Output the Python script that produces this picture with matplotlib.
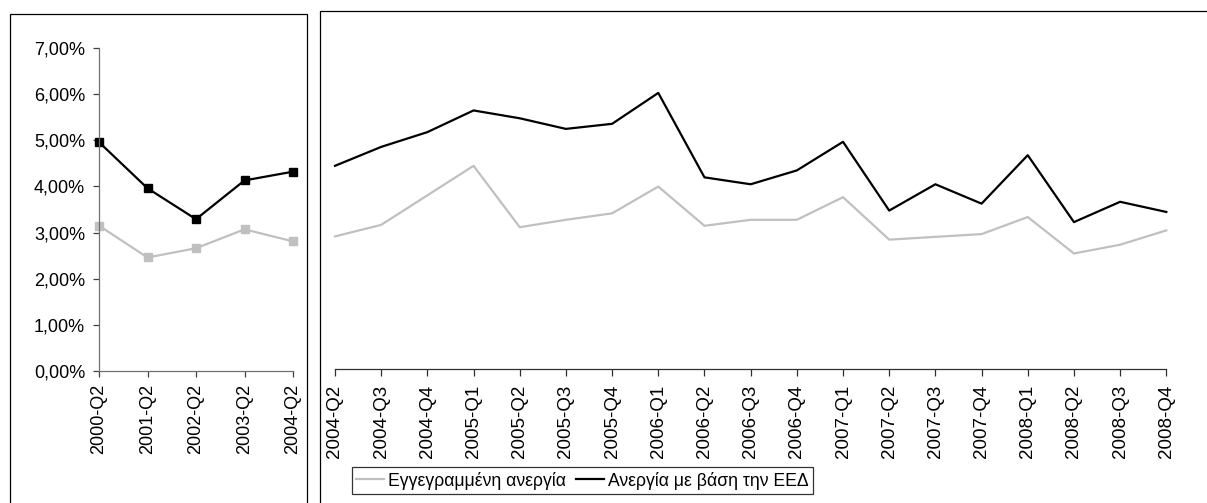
import matplotlib
matplotlib.use('Agg')
import matplotlib.pyplot as plt
from matplotlib.patches import Rectangle
from matplotlib.ticker import FuncFormatter

plt.rcParams['font.family'] = ['Liberation Sans', 'DejaVu Sans']

# ==================== data ====================
left_labels = ['2000-Q2', '2001-Q2', '2002-Q2', '2003-Q2', '2004-Q2']
left_registered = [3.15, 2.46, 2.66, 3.07, 2.81]
left_lfs = [4.96, 3.96, 3.29, 4.13, 4.32]

right_labels = ['2004-Q2', '2004-Q3', '2004-Q4', '2005-Q1', '2005-Q2', '2005-Q3',
                '2005-Q4', '2006-Q1', '2006-Q2', '2006-Q3', '2006-Q4', '2007-Q1',
                '2007-Q2', '2007-Q3', '2007-Q4', '2008-Q1', '2008-Q2', '2008-Q3',
                '2008-Q4']
right_registered = [2.88, 3.13, 3.77, 4.41, 3.08, 3.24, 3.38, 3.96, 3.11, 3.24,
                    3.24, 3.73, 2.81, 2.87, 2.93, 3.30, 2.51, 2.70, 3.01]
right_lfs = [4.41, 4.82, 5.14, 5.61, 5.44, 5.21, 5.32, 5.99, 4.16, 4.01,
             4.31, 4.93, 3.44, 4.01, 3.59, 4.64, 3.19, 3.63, 3.41]

label_registered = 'Εγγεγραμμένη ανεργία'
label_lfs = 'Ανεργία με βάση την ΕΕΔ'

GRAY = '#c0c0c0'
W, H = 1207, 503

fig = plt.figure(figsize=(W / 100, H / 100), dpi=100)


def px(x0, y_top, x1, y_bot):
    # pixel box -> figure fraction rect
    return [x0 / W, 1 - y_bot / H, (x1 - x0) / W, (y_bot - y_top) / H]


# panel frames
fig.patches.append(Rectangle((10 / W, -0.05), (306.7 - 10) / W, 1.05 - 14 / H,
                             transform=fig.transFigure, fill=False,
                             edgecolor='black', linewidth=0.9))
fig.patches.append(Rectangle((320 / W, -0.05), 1.1, 1.05 - 11 / H,
                             transform=fig.transFigure, fill=False,
                             edgecolor='black', linewidth=0.9))

# ==================== left panel ====================
ax1 = fig.add_axes(px(99, 48, 293, 371))
x1 = list(range(len(left_labels)))
ax1.plot(x1, left_registered, color=GRAY, lw=1.6, marker='s', ms=6,
         markeredgecolor=GRAY, clip_on=False)
ax1.plot(x1, left_lfs, color='black', lw=1.6, marker='s', ms=6, clip_on=False)
ax1.set_xlim(0, len(left_labels) - 1)
ax1.set_ylim(0, 7)
ax1.set_yticks(range(0, 8))
ax1.yaxis.set_major_formatter(FuncFormatter(lambda v, p: f'{v:.2f}'.replace('.', ',') + '%'))
ax1.set_xticks(x1)
ax1.set_xticklabels(left_labels, rotation=90)
for s in ['top', 'right']:
    ax1.spines[s].set_visible(False)
for s in ['left', 'bottom']:
    ax1.spines[s].set_color('#707070')
    ax1.spines[s].set_linewidth(0.9)
ax1.tick_params(axis='both', direction='out', length=4, width=0.9,
                color='#404040', labelsize=13, pad=5)
ax1.tick_params(axis='y', pad=6)

# ==================== right panel ====================
ax2 = fig.add_axes(px(335, 46.3, 1166.3, 369.3))
x2 = list(range(len(right_labels)))
ax2.plot(x2, right_registered, color=GRAY, lw=1.6, label=label_registered, clip_on=False)
ax2.plot(x2, right_lfs, color='black', lw=1.6, label=label_lfs, clip_on=False)
ax2.set_xlim(0, len(right_labels) - 1)
ax2.set_ylim(0, 7)
ax2.set_yticks([])
ax2.set_xticks(x2)
ax2.set_xticklabels(right_labels, rotation=90)
for s in ['top', 'right', 'left']:
    ax2.spines[s].set_visible(False)
ax2.spines['bottom'].set_color('#303030')
ax2.spines['bottom'].set_linewidth(0.9)
ax2.tick_params(axis='x', direction='out', length=5, width=0.9,
                color='#303030', labelsize=13.5, pad=6)

leg = fig.legend(loc='lower left', bbox_to_anchor=(351.5 / W, 9 / H),
                 ncol=2, fontsize=12.7, frameon=True, fancybox=False,
                 handlelength=1.6, handletextpad=0.2, columnspacing=0.6,
                 borderpad=0.25, borderaxespad=0)
leg.get_frame().set_edgecolor('black')
leg.get_frame().set_linewidth(0.9)

fig.savefig('out.png', dpi=100)
